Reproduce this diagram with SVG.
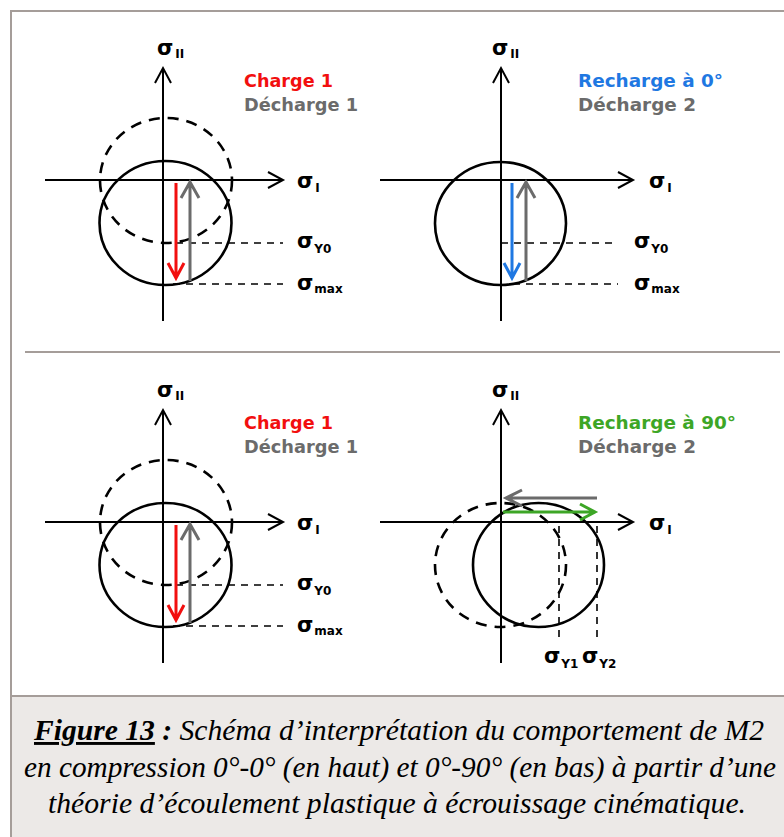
<svg xmlns="http://www.w3.org/2000/svg" width="784" height="837" viewBox="0 0 784 837">
<style>
.ax{fill:none;stroke:#000;stroke-width:2;stroke-linecap:butt;stroke-linejoin:miter}
.cir{fill:none;stroke:#000;stroke-width:2.6}
.dcir{fill:none;stroke:#000;stroke-width:2.6;stroke-dasharray:11 8}
.ref{fill:none;stroke:#000;stroke-width:1.6;stroke-dasharray:7 6}
.arr{fill:none;stroke-width:3;stroke-linejoin:miter;stroke-linecap:butt}
.red{stroke:#f20f0f}.gry{stroke:#6b6b6b}.blu{stroke:#1f78e2}.grn{stroke:#3da626}
.sig{font-family:"DejaVu Sans",sans-serif;font-weight:bold;font-size:21px;fill:#000}
.sub{font-size:12px}
.lab{font-family:"DejaVu Sans",sans-serif;font-weight:bold;font-size:18px}
.cap{font-family:"Times New Roman","Liberation Serif",Tinos,Times,serif;font-style:italic;font-size:29px;fill:#000}
</style>
<g id="frame">
<rect x="11" y="11" width="800" height="840" fill="#fff" stroke="#a59d99" stroke-width="2"/>
<line x1="25" y1="352" x2="780" y2="352" stroke="#a59d99" stroke-width="2"/>
</g>
<g id="panel-top-left">
<ellipse class="dcir" cx="166" cy="180.5" rx="66" ry="62.5"/>
<ellipse class="cir" cx="165.5" cy="223" rx="66" ry="62"/>
<path class="ax" d="M163 321V69M155 83L163 68L171 83M45 180H282M268 172L283 180L268 188"/>
<path class="ref" d="M163 243H283M173 284H283"/>
<path class="arr red" d="M176 183V277M168 263L176 278L184 263"/>
<path class="arr gry" d="M190 281V183M181 198L190 182L199 198"/>
<text class="sig" x="157" y="55">σ<tspan class="sub" dx="2" dy="3">II</tspan></text>
<text class="sig" x="297" y="188">σ<tspan class="sub" dx="2" dy="4">I</tspan></text>
<text class="sig" x="297" y="248">σ<tspan class="sub" dx="1" dy="5">Y0</tspan></text>
<text class="sig" x="297" y="290">σ<tspan class="sub" dx="1" dy="3">max</tspan></text>
<text class="lab" x="244" y="87" fill="#f20f0f" textLength="89" lengthAdjust="spacingAndGlyphs">Charge 1</text>
<text class="lab" x="244" y="111" fill="#6b6b6b" textLength="114" lengthAdjust="spacingAndGlyphs">Décharge 1</text>
</g>
<g id="panel-top-right">
<ellipse class="cir" cx="500.5" cy="223.5" rx="65.5" ry="61.5"/>
<path class="ax" d="M501 321V69M493 83L501 68L509 83M380 180H632M618 172L633 180L618 188"/>
<path class="ref" d="M501 243H618M513 284H618"/>
<path class="arr blu" d="M512 183V277M504 263L512 278L520 263"/>
<path class="arr gry" d="M526 281V183M517 198L526 182L535 198"/>
<text class="sig" x="492" y="55">σ<tspan class="sub" dx="2" dy="3">II</tspan></text>
<text class="sig" x="649" y="188">σ<tspan class="sub" dx="2" dy="4">I</tspan></text>
<text class="sig" x="634" y="248">σ<tspan class="sub" dx="1" dy="5">Y0</tspan></text>
<text class="sig" x="634" y="290">σ<tspan class="sub" dx="1" dy="3">max</tspan></text>
<text class="lab" x="578" y="87" fill="#1f78e2" textLength="145" lengthAdjust="spacingAndGlyphs">Recharge à 0°</text>
<text class="lab" x="578" y="111" fill="#6b6b6b" textLength="118" lengthAdjust="spacingAndGlyphs">Décharge 2</text>
</g>
<g id="panel-bottom-left" transform="translate(0,342)">
<ellipse class="dcir" cx="166" cy="180.5" rx="66" ry="62.5"/>
<ellipse class="cir" cx="165.5" cy="223" rx="66" ry="62"/>
<path class="ax" d="M163 321V69M155 83L163 68L171 83M45 180H282M268 172L283 180L268 188"/>
<path class="ref" d="M163 243H283M173 284H283"/>
<path class="arr red" d="M176 183V277M168 263L176 278L184 263"/>
<path class="arr gry" d="M190 281V183M181 198L190 182L199 198"/>
<text class="sig" x="157" y="55">σ<tspan class="sub" dx="2" dy="3">II</tspan></text>
<text class="sig" x="297" y="188">σ<tspan class="sub" dx="2" dy="4">I</tspan></text>
<text class="sig" x="297" y="248">σ<tspan class="sub" dx="1" dy="5">Y0</tspan></text>
<text class="sig" x="297" y="290">σ<tspan class="sub" dx="1" dy="3">max</tspan></text>
<text class="lab" x="244" y="87" fill="#f20f0f" textLength="89" lengthAdjust="spacingAndGlyphs">Charge 1</text>
<text class="lab" x="244" y="111" fill="#6b6b6b" textLength="114" lengthAdjust="spacingAndGlyphs">Décharge 1</text>
</g>
<g id="panel-bottom-right">
<ellipse class="dcir" cx="500.5" cy="565" rx="65.5" ry="62"/>
<ellipse class="cir" cx="538.5" cy="565" rx="65.5" ry="62"/>
<path class="ax" d="M501 663V411M493 425L501 410L509 425M380 522H632M618 514L633 522L618 530"/>
<path class="ref" d="M559 526V638M597 526V638"/>
<path class="arr gry" d="M597 498H507M522 490L506 498L522 506"/>
<path class="arr grn" d="M503 512H593M580 504L595 512L580 520"/>
<text class="sig" x="492" y="397">σ<tspan class="sub" dx="2" dy="3">II</tspan></text>
<text class="sig" x="649" y="530">σ<tspan class="sub" dx="2" dy="4">I</tspan></text>
<text class="sig" x="544" y="663">σ<tspan class="sub" dx="1" dy="5">Y1</tspan></text>
<text class="sig" x="582" y="663">σ<tspan class="sub" dx="1" dy="5">Y2</tspan></text>
<text class="lab" x="578" y="429" fill="#3da626" textLength="158" lengthAdjust="spacingAndGlyphs">Recharge à 90°</text>
<text class="lab" x="578" y="453" fill="#6b6b6b" textLength="118" lengthAdjust="spacingAndGlyphs">Décharge 2</text>
</g>
<g id="caption">
<rect x="11" y="696" width="790" height="150" fill="#ece9e7" stroke="#a59d99" stroke-width="2"/>
<text class="cap" x="399" y="740" text-anchor="middle" textLength="730" lengthAdjust="spacingAndGlyphs"><tspan font-weight="bold" text-decoration="underline">Figure 13</tspan><tspan font-weight="bold"> :</tspan> Schéma d’interprétation du comportement de M2</text>
<text class="cap" x="400" y="777" text-anchor="middle" textLength="752" lengthAdjust="spacingAndGlyphs">en compression 0°-0° (en haut) et 0°-90° (en bas) à partir d’une</text>
<text class="cap" x="397" y="813" text-anchor="middle" textLength="698" lengthAdjust="spacingAndGlyphs">théorie d’écoulement plastique à écrouissage cinématique.</text>
</g>
</svg>
